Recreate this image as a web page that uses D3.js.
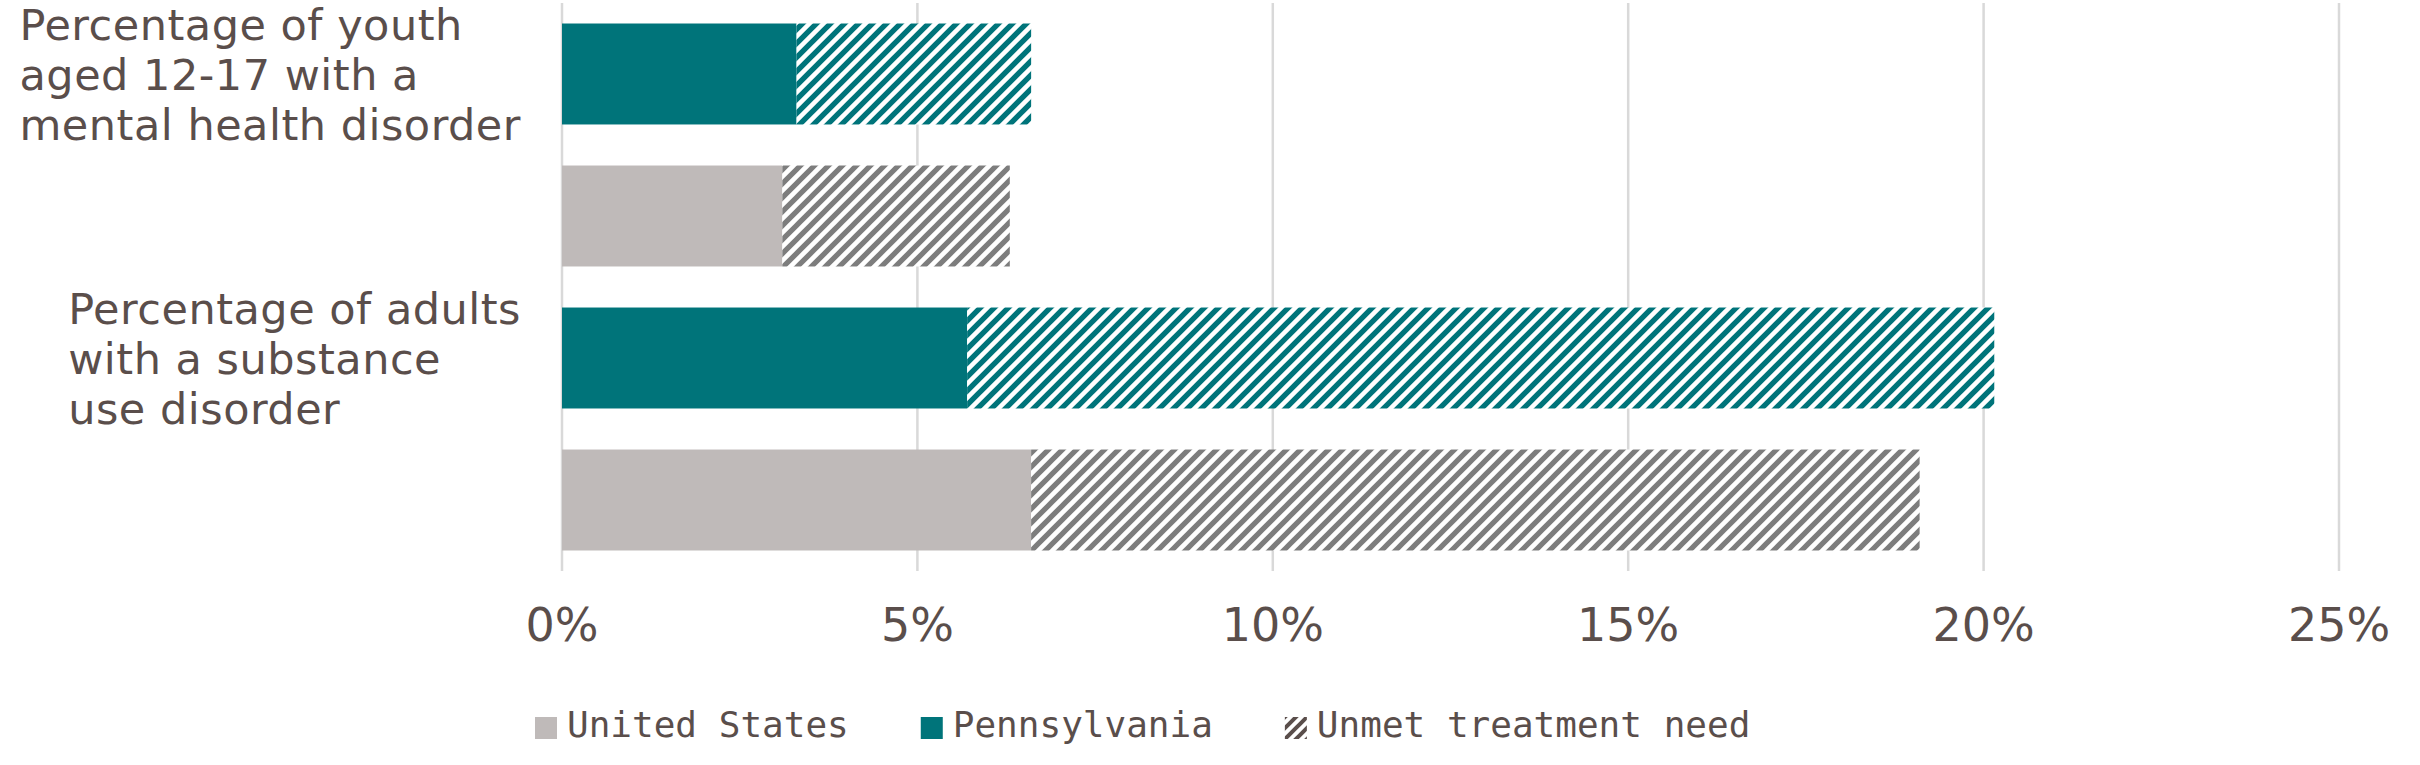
<!DOCTYPE html>
<html>
<head>
<meta charset="utf-8">
<script src="https://cdn.jsdelivr.net/npm/d3@7"></script>
<style>
  body { margin: 0; background: #fff; }
  svg { display: block; }
</style>
</head>
<body>
<svg class="chart" width="2420" height="765"></svg>
<script>
    // rows from top to bottom
    var rows = ["PA youth", "US youth", "PA adults", "US adults"];
    var rowLabels = [
        ["Percentage of youth", "aged 12-17 with a", "mental health disorder"],
        [],
        ["Percentage of adults", "with a substance", "use disorder"],
        []
    ];
    var rowGroup = ["Pennsylvania", "United States", "Pennsylvania", "United States"];
    var withDisorder = [3.3, 3.1, 5.7, 6.6];
    var unmetNeed = [3.3, 3.2, 14.45, 12.5];
    var ticks = [0, 5, 10, 15, 20, 25];
    var legendItems = ["United States", "Pennsylvania", "Unmet treatment need"];

    var width = 2420;
    var height = 765;
    var textColor = "#5a4e4b";
    var labelFont = "'DejaVu Sans', sans-serif";
    var teal = "#00747a";
    var gray = "#bfbab9";
    var grayHatch = "#7d7d7d";

    var svg = d3.select(".chart");

    var xScale = d3.scaleLinear()
        .domain([0, 25])
        .range([562, 2339]);

    var yScale = d3.scaleBand()
        .domain(rows)
        .range([3, 571])
        .paddingInner(0.289)
        .paddingOuter(0.1444);

    // hatch patterns for the unmet part of each bar
    var defs = svg.append("defs");
    function hatch(id, color, size, sw) {
        var p = defs.append("pattern")
            .attr("id", id)
            .attr("patternUnits", "userSpaceOnUse")
            .attr("width", size)
            .attr("height", size);
        p.append("rect").attr("width", size).attr("height", size).attr("fill", "#fff");
        p.append("path")
            .attr("d", "M" + (-size / 4) + "," + (size / 4) + " l" + (size / 2) + "," + (-size / 2) +
                " M0," + size + " l" + size + "," + (-size) +
                " M" + (size * 3 / 4) + "," + (size * 5 / 4) + " l" + (size / 2) + "," + (-size / 2))
            .attr("stroke", color)
            .attr("stroke-width", sw);
    }
    hatch("hatch-teal", teal, 14, 5.4);
    hatch("hatch-gray", grayHatch, 14, 5.2);
    hatch("hatch-legend", "#5a4e4b", 11, 4);

    // gridlines
    svg.append("g")
        .selectAll("line")
        .data(ticks)
        .enter()
        .append("line")
        .attr("x1", d => xScale(d))
        .attr("x2", d => xScale(d))
        .attr("y1", 3)
        .attr("y2", 571)
        .attr("stroke", "#d9d9d9")
        .attr("stroke-width", 2.5);

    // solid part
    svg.append("g")
        .selectAll("rect")
        .data(rows)
        .enter()
        .append("rect")
        .attr("x", xScale(0))
        .attr("y", d => yScale(d))
        .attr("width", (d, i) => xScale(withDisorder[i]) - xScale(0))
        .attr("height", yScale.bandwidth())
        .attr("fill", (d, i) => rowGroup[i] == "Pennsylvania" ? teal : gray);

    // unmet treatment need, stacked on top
    svg.append("g")
        .selectAll("rect")
        .data(rows)
        .enter()
        .append("rect")
        .attr("x", (d, i) => xScale(withDisorder[i]))
        .attr("y", d => yScale(d))
        .attr("width", (d, i) => xScale(withDisorder[i] + unmetNeed[i]) - xScale(withDisorder[i]))
        .attr("height", yScale.bandwidth())
        .attr("fill", (d, i) => rowGroup[i] == "Pennsylvania" ? "url(#hatch-teal)" : "url(#hatch-gray)");

    // x tick labels
    svg.append("g")
        .selectAll("text")
        .data(ticks)
        .enter()
        .append("text")
        .attr("x", d => xScale(d))
        .attr("y", 641)
        .attr("text-anchor", "middle")
        .attr("font-family", labelFont)
        .attr("font-size", 46)
        .attr("fill", textColor)
        .text(d => d + "%");

    // category labels: left aligned lines, block ends near the axis
    var labelRight = 521;
    var lineGap = 50;
    rows.forEach(function (r, i) {
        var lines = rowLabels[i];
        if (lines.length == 0) return;
        var cy = yScale(r) + yScale.bandwidth() / 2;
        var g = svg.append("g");
        var texts = g.selectAll("text")
            .data(lines)
            .enter()
            .append("text")
            .attr("y", (d, j) => cy + 16 + (j - (lines.length - 1) / 2) * lineGap)
            .attr("font-family", labelFont)
            .attr("font-size", 43)
            .attr("letter-spacing", 0.5)
            .attr("fill", textColor)
            .text(d => d);
        var maxW = d3.max(texts.nodes(), n => n.getComputedTextLength());
        texts.attr("x", Math.max(4, labelRight - maxW));
    });

    // legend
    var legend = svg.append("g");
    var lx = 535;
    legendItems.forEach(function (name, i) {
        var fill = i == 0 ? gray : i == 1 ? teal : "url(#hatch-legend)";
        legend.append("rect")
            .attr("x", lx)
            .attr("y", 717)
            .attr("width", 22)
            .attr("height", 22)
            .attr("fill", fill);
        var t = legend.append("text")
            .attr("x", lx + 32)
            .attr("y", 737)
            .attr("font-family", "'DejaVu Sans Mono', monospace")
            .attr("font-size", 36)
            .attr("fill", textColor)
            .text(name);
        lx = lx + 32 + t.node().getComputedTextLength() + 72;
    });
</script>
</body>
</html>
